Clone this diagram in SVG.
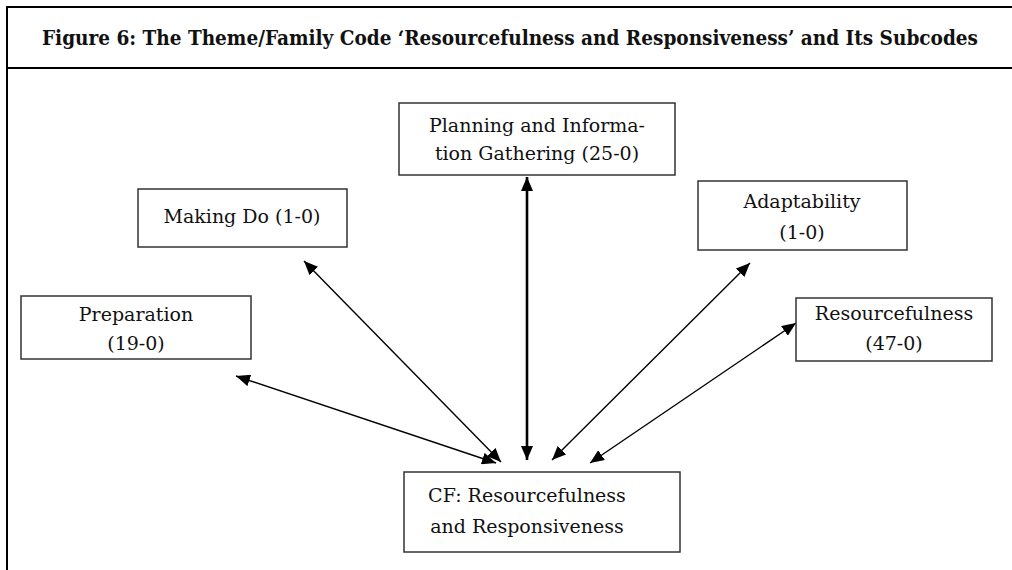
<svg xmlns="http://www.w3.org/2000/svg" width="1012" height="570" viewBox="0 0 1012 570">
  <style>
    .frame { stroke: #000; stroke-width: 2; fill: none; }
    .box { fill: #fff; stroke: #333; stroke-width: 1.5; }
    .lbl { font-family: "DejaVu Serif", "Liberation Serif", serif; font-size: 19px; fill: #111; text-anchor: middle; }
    .title { font-family: "DejaVu Serif Condensed", "DejaVu Serif", "Liberation Serif", serif; font-stretch: condensed; font-size: 21px; font-weight: bold; fill: #111; }
    .link { stroke: #000; stroke-width: 1.4; fill: none; marker-start: url(#head); marker-end: url(#head); }
    .link.main { stroke-width: 2.6; }
  </style>
  <defs>
    <marker id="head" viewBox="0 0 14 12" refX="14" refY="6" markerWidth="14" markerHeight="12" markerUnits="userSpaceOnUse" orient="auto-start-reverse">
      <path d="M0,0 L14,6 L0,12 Z" fill="#000"/>
    </marker>
  </defs>
  <rect width="1012" height="570" fill="#fff"/>

  <!-- outer frame and title band -->
  <g id="frame">
    <line class="frame" x1="7" y1="7" x2="1012" y2="7"/>
    <line class="frame" x1="7" y1="68" x2="1012" y2="68"/>
    <line class="frame" x1="7" y1="6" x2="7" y2="570"/>
    <text class="title" x="42" y="45" textLength="936" lengthAdjust="spacingAndGlyphs">Figure 6: The Theme/Family Code ‘Resourcefulness and Responsiveness’ and Its Subcodes</text>
  </g>

  <!-- connectors -->
  <g id="connectors">
    <line class="link main" x1="527" y1="177" x2="527" y2="460"/>
    <line class="link" x1="304" y1="261" x2="501" y2="462"/>
    <line class="link" x1="236" y1="376" x2="496" y2="463"/>
    <line class="link" x1="750" y1="263" x2="552" y2="460"/>
    <line class="link" x1="796" y1="323" x2="590" y2="463"/>
  </g>

  <g id="planning">
    <rect class="box" x="399" y="103" width="276" height="72"/>
    <text class="lbl" x="537" y="132">Planning and Informa-</text>
    <text class="lbl" x="537" y="160">tion Gathering (25-0)</text>
  </g>

  <g id="making-do">
    <rect class="box" x="138" y="189" width="209" height="58"/>
    <text class="lbl" x="242" y="223">Making Do (1-0)</text>
  </g>

  <g id="preparation">
    <rect class="box" x="21" y="296" width="230" height="63"/>
    <text class="lbl" x="136" y="321">Preparation</text>
    <text class="lbl" x="136" y="350">(19-0)</text>
  </g>

  <g id="adaptability">
    <rect class="box" x="698" y="181" width="209" height="69"/>
    <text class="lbl" x="802" y="208">Adaptability</text>
    <text class="lbl" x="802" y="239">(1-0)</text>
  </g>

  <g id="resourcefulness">
    <rect class="box" x="796" y="298" width="196" height="63"/>
    <text class="lbl" x="894" y="320">Resourcefulness</text>
    <text class="lbl" x="894" y="350">(47-0)</text>
  </g>

  <g id="cf-resourcefulness">
    <rect class="box" x="404" y="472" width="276" height="80"/>
    <text class="lbl" x="527" y="502">CF: Resourcefulness</text>
    <text class="lbl" x="527" y="533">and Responsiveness</text>
  </g>
</svg>
